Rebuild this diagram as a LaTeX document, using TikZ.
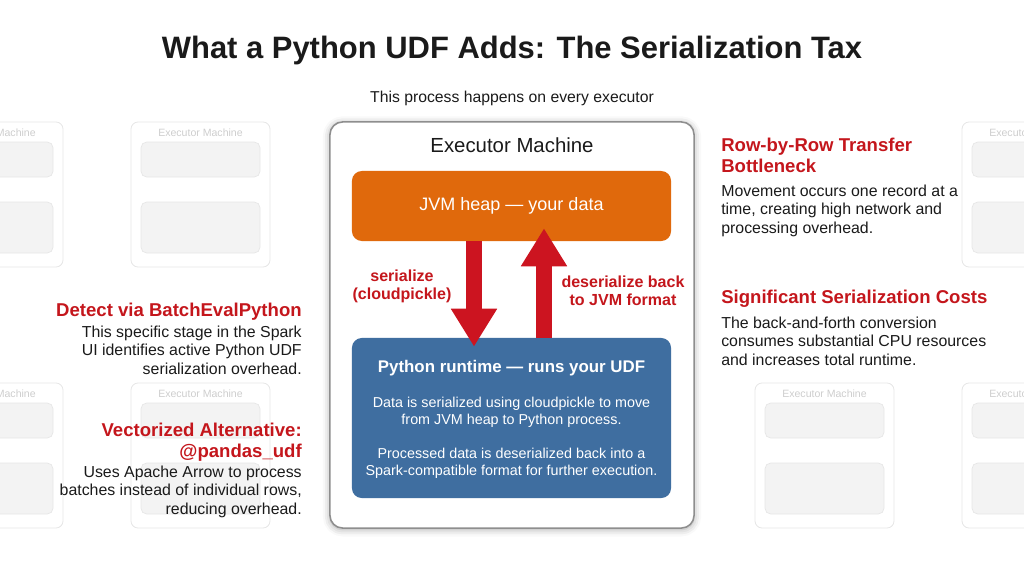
\documentclass[tikz,border=0pt]{standalone}
\usepackage{fontspec}
\setmainfont{Liberation Sans}
\usepackage{tikz}
\usetikzlibrary{positioning,arrows.meta,calc,shadows.blur}
\definecolor{taxred}{HTML}{C4161C}
\definecolor{arrowred}{HTML}{CC1420}
\definecolor{jvmorange}{HTML}{E0690C}
\definecolor{pyblue}{HTML}{3F6EA0}
\definecolor{ink}{HTML}{1A1A1A}
\definecolor{frame}{HTML}{8E8E8E}
\definecolor{ghostline}{HTML}{E6E6E6}
\definecolor{ghostfill}{HTML}{F3F3F3}
\definecolor{ghosttext}{HTML}{CDCDCD}

\begin{document}
\begin{tikzpicture}[x=0.025cm,y=-0.025cm,
  ghost/.style={rounded corners=5pt,draw=ghostline,line width=0.6pt},
  ghostpane/.style={rounded corners=4pt,draw=ghostline,fill=ghostfill,line width=0.5pt},
  machine/.style={rectangle,rounded corners=9pt,draw=frame,line width=1.1pt,fill=white,
                  minimum width=9.1cm,minimum height=10.15cm,
                  blur shadow={shadow xshift=0pt,shadow yshift=-1pt,shadow blur radius=5pt,shadow opacity=35}},
  heap/.style={rectangle,rounded corners=7pt,fill=jvmorange,minimum width=7.975cm,minimum height=1.75cm,
               text=white,font=\fontsize{12.8}{15}\selectfont},
  runtime/.style={rectangle,rounded corners=7pt,fill=pyblue,minimum width=7.975cm,minimum height=4cm},
  fat/.style={line width=12pt,draw=arrowred,-{Triangle[width=31pt,length=27pt]}},
  lbl/.style={font=\bfseries\fontsize{11.4}{12.8}\selectfont,text=taxred,align=center,inner sep=0pt},
  head/.style={font=\bfseries\fontsize{13.2}{14.6}\selectfont,text=taxred,inner sep=0pt},
  note/.style={font=\fontsize{11.3}{12.9}\selectfont,text=ink,inner sep=0pt}
]
\useasboundingbox (0,0) rectangle (1024,572);
\clip (0,0) rectangle (1024,572);
% faded executors in the background
\foreach \gx/\gy in {-76/122,131/122,962/122,-76/383,131/383,755/383,962/383}{
  \draw[ghost] (\gx,\gy) rectangle ++(139,145);
  \node[anchor=base,text=ghosttext,font=\fontsize{7.5}{9}\selectfont] at (\gx+69.5,\gy+14) {Executor Machine};
  \draw[ghostpane] (\gx+10,\gy+20) rectangle ++(119,35);
  \draw[ghostpane] (\gx+10,\gy+80) rectangle ++(119,51);
}
\node[font=\bfseries\fontsize{22}{26}\selectfont,anchor=base,text=ink] (title) at (512,58) {What a Python UDF Adds: The Serialization Tax};
\node[font=\fontsize{11.2}{13}\selectfont,anchor=base,text=ink] (sub) at (512,102) {This process happens on every executor};
% the one executor in focus
\node[machine] (exec) at (512,325) {};
\node[font=\fontsize{14.5}{17}\selectfont,anchor=base,text=ink] (exectitle) at (512,152) {Executor Machine};
\node[heap] (jvm) at (511.5,206) {JVM heap — your data};
\node[runtime] (py) at (511.5,418) {};
\node[anchor=base,text=white,font=\bfseries\fontsize{12}{14}\selectfont] (pytitle) at (511.5,372) {Python runtime — runs your UDF};
\node[anchor=north,align=center,text=white,inner sep=0pt,font=\fontsize{10.2}{12}\selectfont] (pybody) at (511.5,397)
  {Data is serialized using cloudpickle to move\\from JVM heap to Python process.\\[12pt]
   Processed data is deserialized back into a\\Spark-compatible format for further execution.};
\draw[fat] ($(jvm.south)+(-37.5,0)$) -- ($(py.north)+(-37.5,9)$);
\draw[fat] ($(py.north)+(32.5,0)$) -- ($(jvm.south)+(32.5,-13)$);
\node[lbl,anchor=north] (ser) at (402,270) {serialize\\(cloudpickle)};
\node[lbl,anchor=north] (deser) at (623,276) {deserialize back\\to JVM format};
% left column
\node[head,anchor=north east] (detect) at (302,303) {Detect via BatchEvalPython};
\node[note,align=right,anchor=north east] (detectnote) at (302,326) {This specific stage in the Spark\\UI identifies active Python UDF\\serialization overhead.};
\node[head,align=right,anchor=north east] (vec) at (302,423) {Vectorized Alternative:\\@pandas\_udf};
\node[note,align=right,anchor=north east] (vecnote) at (302,466) {Uses Apache Arrow to process\\batches instead of individual rows,\\reducing overhead.};
% right column
\node[head,align=left,anchor=north west] (rowx) at (721,138) {Row-by-Row Transfer\\Bottleneck};
\node[note,align=left,anchor=north west] (rownote) at (721,185) {Movement occurs one record at a\\time, creating high network and\\processing overhead.};
\node[head,anchor=north west] (cost) at (721,290) {Significant Serialization Costs};
\node[note,align=left,anchor=north west] (costnote) at (721,317) {The back-and-forth conversion\\consumes substantial CPU resources\\and increases total runtime.};
\end{tikzpicture}
\end{document}
